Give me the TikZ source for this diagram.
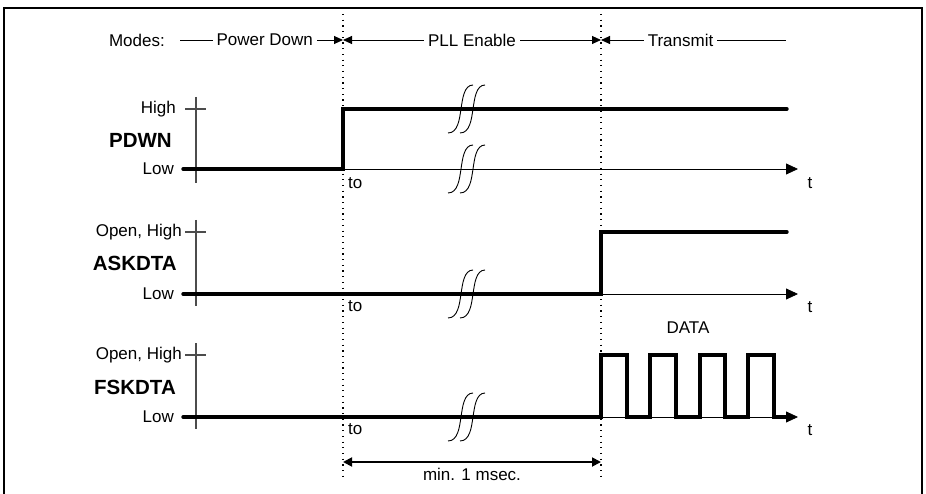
\documentclass[tikz,border=0pt]{standalone}
\usepackage{fontspec}
\setmainfont{Liberation Sans}
\usetikzlibrary{arrows.meta,positioning,calc}
\tikzset{
  lbl/.style={font=\fontsize{17}{19}\selectfont,inner sep=1pt},
  level/.style={lbl,anchor=east},
  siglbl/.style={font=\fontsize{20.5}{23}\selectfont\bfseries,anchor=east,inner sep=0pt},
  modetext/.style={lbl,fill=white,inner xsep=4pt},
  frame/.style={draw=black,line width=1.5pt},
  marker/.style={draw=black,line width=1.2pt,dash pattern=on 1.2pt off 4.5pt},
  modearrow/.style={draw=black,line width=0.9pt,>={Triangle[length=9pt,width=8pt]}},
  axis/.style={draw=black!70,line width=1.2pt},
  timeaxis/.style={-{Triangle[length=12pt,width=11pt]},draw=black,line width=0.8pt},
  signal/.style={draw=black,line width=3.4pt,line cap=round,line join=miter},
  dimarrow/.style={{Triangle[length=9pt,width=9pt]}-{Triangle[length=9pt,width=9pt]},draw=black,line width=1.8pt},
  brk/.pic={\draw[line width=0.9pt] (-13,-24) .. controls (-3,-24) and (-1.5,-10) .. (0,0) .. controls (1.5,10) and (3,24) .. (12,24);}
}
\begin{document}
\begin{tikzpicture}[x=1pt,y=1pt]
  \useasboundingbox (0,0) rectangle (926,-494);
  \draw[frame] (4,-494) -- (4,-8) -- (922,-8) -- (922,-494);

  % mode boundaries
  \coordinate (b1top) at (343,-14);
  \coordinate (b1bot) at (343,-476);
  \coordinate (b2top) at (601,-14);
  \coordinate (b2bot) at (601,-476);
  \draw[marker] (b1top) -- (b1bot);
  \draw[marker] (b2top) -- (b2bot);

  % modes
  \node[level] (modes) at (166,-40) {Modes:};
  \coordinate (m0) at (180,-40);
  \coordinate (m1) at (343,-40);
  \coordinate (m2) at (601,-40);
  \coordinate (m3) at (786,-40);
  \draw[modearrow,->] (m0) -- node[modetext,pos=0.52] (pd) {Power Down} (m1);
  \draw[modearrow,<->] (m1) -- node[modetext] (pll) {PLL Enable} (m2);
  \draw[modearrow,<-] (m2) -- node[modetext,pos=0.43] (tx) {Transmit} (m3);

  % PDWN
  \node[siglbl] (pdwn) at (172,-140) {PDWN};
  \node[level] (pdwnhi) at (177,-109) {High};
  \node[level] (pdwnlo) at (175,-169) {Low};
  \draw[axis] (196,-97) -- (196,-183);
  \draw[axis] (185,-109) -- (206,-109);
  \draw[timeaxis] (196,-169) -- (798,-169);
  \node[lbl,anchor=west] (pdwnto) at (347,-183) {to};
  \node[lbl] (pdwnt) at (810,-183) {t};
  \draw[signal] (183,-169) -- (343,-169) -- (343,-109) -- (787,-109);
  \pic at (461,-109) {brk};
  \pic at (473,-109) {brk};
  \pic at (461,-169) {brk};
  \pic at (473,-169) {brk};

  % ASKDTA
  \node[siglbl] (askdta) at (177,-263) {ASKDTA};
  \node[level] (askhi) at (183,-232) {Open, High};
  \node[level] (asklo) at (175,-294) {Low};
  \draw[axis] (196,-220) -- (196,-306);
  \draw[axis] (185,-232) -- (206,-232);
  \draw[timeaxis] (196,-294) -- (798,-294);
  \node[lbl,anchor=west] (askto) at (347,-306) {to};
  \node[lbl] (askt) at (810,-307) {t};
  \draw[signal] (183,-294) -- (601,-294) -- (601,-232) -- (787,-232);
  \pic at (461,-294) {brk};
  \pic at (473,-294) {brk};

  % FSKDTA
  \node[siglbl] (fskdta) at (176,-387) {FSKDTA};
  \node[level] (fskhi) at (183,-355) {Open, High};
  \node[level] (fsklo) at (175,-417) {Low};
  \draw[axis] (196,-343) -- (196,-429);
  \draw[axis] (185,-355) -- (206,-355);
  \draw[timeaxis] (196,-417) -- (798,-417);
  \node[lbl,anchor=west] (fskto) at (347,-429) {to};
  \node[lbl] (fskt) at (810,-430) {t};
  \draw[signal] (183,-417) -- (601,-417) -- (601,-355) -- (627,-355) -- (627,-417)
    -- (650,-417) -- (650,-355) -- (676,-355) -- (676,-417)
    -- (700,-417) -- (700,-355) -- (725,-355) -- (725,-417)
    -- (748,-417) -- (748,-355) -- (774,-355) -- (774,-417) -- (787,-417);
  \pic at (461,-417) {brk};
  \pic at (473,-417) {brk};
  \node[lbl] (data) at (688,-328) {DATA};

  % duration
  \coordinate (d0) at (343,-462);
  \coordinate (d1) at (601,-462);
  \draw[dimarrow] (d0) -- node[lbl,below=4pt] (dur) {min. 1 msec.} (d1);
\end{tikzpicture}
\end{document}
